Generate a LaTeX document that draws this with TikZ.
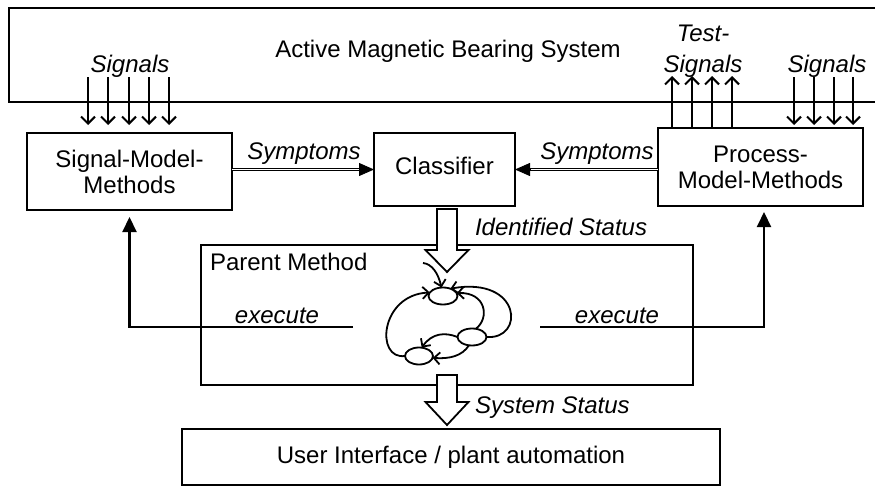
\documentclass[tikz,border=0pt]{standalone}
\usepackage{fontspec}
\setmainfont{Liberation Sans}
\usetikzlibrary{arrows.meta,calc,shapes.geometric}
\begin{document}
\begin{tikzpicture}[x=1pt,y=-1pt,
  every node/.style={font=\fontsize{24}{26}\selectfont, inner sep=0pt, outer sep=0pt},
  box/.style={draw, line width=1.8pt, align=center},
  lbl/.style={font=\fontsize{24}{26}\selectfont\itshape, anchor=base},
  sigarr/.style={line width=2.1pt, -{Straight Barb[length=7pt,width=14pt]}},
  exarr/.style={line width=2.1pt, sharp corners, -{Triangle[length=15pt,width=14pt]}},
  dbl/.style={double, line width=0.9pt, double distance=1.5pt},
  tri/.style={line width=0.8pt, -{Triangle[length=15pt,width=13pt]}},
  blk/.style={draw, line width=1.8pt, fill=white, line join=miter},
  state/.style={draw, ellipse, line width=1.8pt, minimum width=29pt, minimum height=17pt, inner sep=0pt},
  starr/.style={line width=1.8pt, -{Straight Barb[length=6pt,width=12pt]}}
]
\useasboundingbox (0,0) rectangle (875,487);
\clip (0,0) rectangle (875,487);

% boxes
\node[box, minimum width=878pt, minimum height=94pt, text height=17pt, text depth=11pt] (amb) at (448,55) {Active Magnetic Bearing System};
\node[box, minimum width=205pt, minimum height=77pt] (sigbox) at (129.5,171.5) {Signal-Model-\\Methods};
\node[box, minimum width=141pt, minimum height=73pt, text height=17pt, text depth=8pt] (clsbox) at (444.5,169.5) {Classifier};
\node[box, minimum width=205pt, minimum height=78pt] (procbox) at (760.5,167) {Process-\\Model-Methods};
\node[box, minimum width=492pt, minimum height=140pt] (parent) at (447,315) {};
\node[box, minimum width=538pt, minimum height=56pt] (ui) at (451,457) {User Interface / plant automation};

% signal arrows
\foreach \x in {88,108,129,149,169}
  \draw[sigarr, shorten >=8pt] (\x,77) -- (\x,77 |- sigbox.north);
\foreach \x in {794,814,834,853}
  \draw[sigarr, shorten >=3pt] (\x,77) -- (\x,77 |- procbox.north);
\foreach \x in {672,692,712,732}
  \draw[sigarr] (\x,76 |- procbox.north) -- (\x,76);

% labels on top
\node[lbl] (sigL) at (130,73) {Signals};
\node[lbl] (test1) at (703,42) {Test-};
\node[lbl] (test2) at (703,72) {Signals};
\node[lbl] (sigR) at (827,72) {Signals};

% symptoms
\draw[dbl] (sigbox.east |- clsbox.west) -- ([xshift=-14pt]clsbox.west);
\draw[tri] ([xshift=-15pt]clsbox.west) -- (clsbox.west);
\draw[dbl] (procbox.west |- clsbox.east) -- ([xshift=14pt]clsbox.east);
\draw[tri] ([xshift=15pt]clsbox.east) -- (clsbox.east);
\node[lbl] (symL) at (304,159) {Symptoms};
\node[lbl] (symR) at (597,159) {Symptoms};

% execute connectors
\coordinate (exLs) at (353,327);
\coordinate (exRs) at (540,327);
\draw[exarr, shorten >=7pt] (exLs) -| (sigbox.south);
\draw[exarr, shorten >=6pt] (exRs) -| ([xshift=3.5pt]procbox.south);
\node[lbl] (exL) at (277,323) {execute};
\node[lbl] (exR) at (617,323) {execute};

\node[anchor=base west] (pm) at (210,270) {Parent Method};

% block arrows
\coordinate (idtop) at (447,209);
\draw[blk] (idtop) ++(-10,0) -- ++(20,0) -- ++(0,41) -- ++(11.5,0) -- ++(-21.5,22) -- ++(-21.5,-22) -- ++(11.5,0) -- cycle;
\node[lbl, anchor=base west] (idst) at (475,235) {Identified Status};

\coordinate (sstop) at (447,375);
\draw[blk] (sstop) ++(-10,0) -- ++(20,0) -- ++(0,27) -- ++(11.5,0) -- ++(-21.5,23) -- ++(-21.5,-23) -- ++(11.5,0) -- cycle;
\node[lbl, anchor=base west] (sysst) at (475,413) {System Status};

% state machine
\node[state] (st1) at (443,296) {};
\node[state] (st2) at (472,337) {};
\node[state, minimum width=28pt] (st3) at (419,356) {};
\coordinate (in0) at (423,263);
\draw[starr] (in0) .. controls (432,264) and (438,273) .. (st1.100);
\draw[starr] (st3.180) .. controls (375,360) and (380,295) .. (st1.165);
\draw[starr] (st2.0) .. controls (525,340) and (522,276) .. (st1.45);
\draw[starr] (st2.65) .. controls (490,318) and (486,292) .. (st1.12);
\draw[starr] (st2.180) .. controls (445,332) and (432,333) .. (st3.72);
\draw[starr] (st2.250) .. controls (462,356) and (450,359) .. (st3.-8);
\end{tikzpicture}
\end{document}
